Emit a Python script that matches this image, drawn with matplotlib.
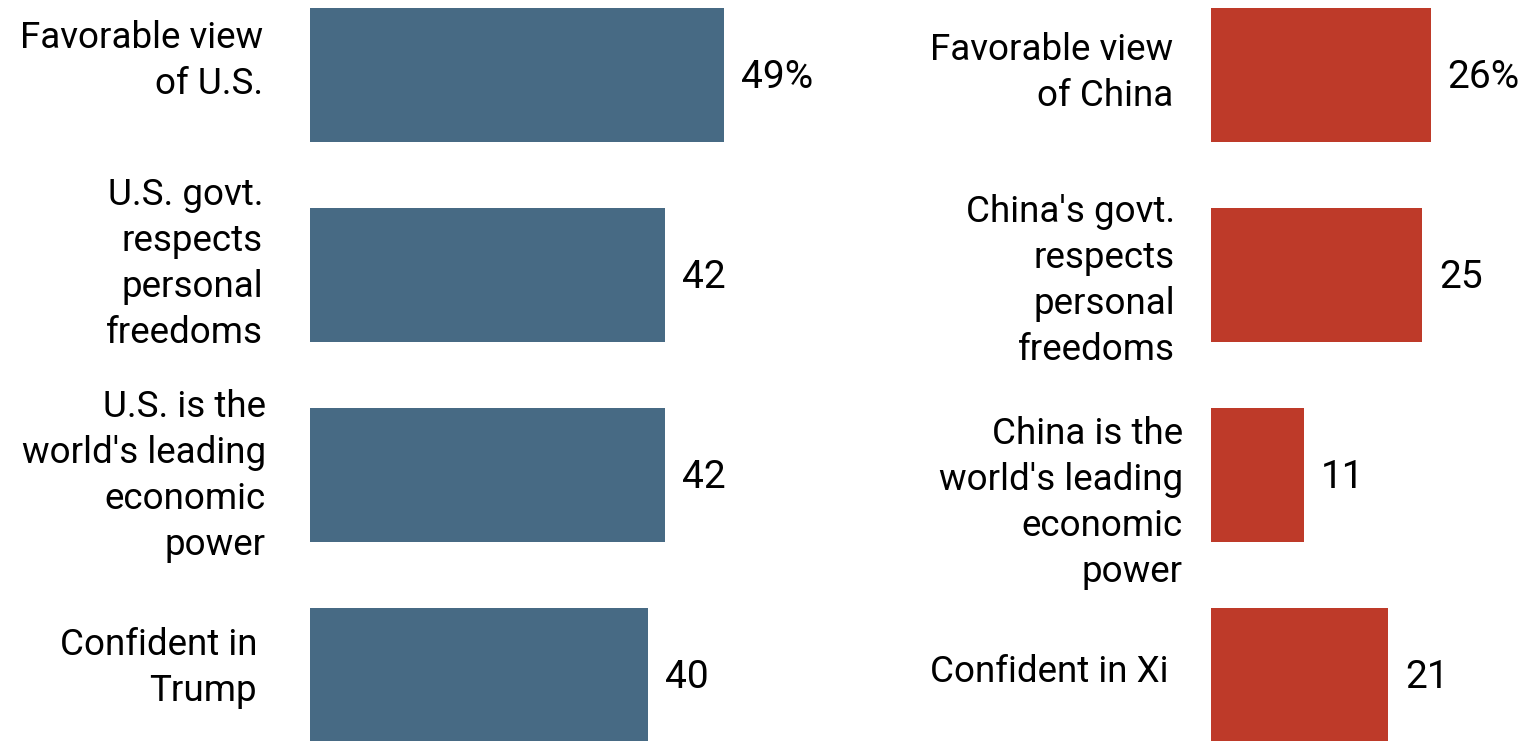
import matplotlib.pyplot as plt

us_labels = ["Favorable view\nof U.S.", "U.S. govt.\nrespects\npersonal\nfreedoms",
             "U.S. is the\nworld's leading\neconomic\npower", "Confident in\nTrump"]
us_values = [49, 42, 42, 40]
cn_labels = ["Favorable view\nof China", "China's govt.\nrespects\npersonal\nfreedoms",
             "China is the\nworld's leading\neconomic\npower", "Confident in Xi"]
cn_values = [26, 25, 11, 21]

plt.rcParams['font.family'] = ['Roboto', 'DejaVu Sans']

W, H = 1533, 741
fig = plt.figure(figsize=(W / 100, H / 100), dpi=100)

px_per_unit = 8.45
row_px = 200.0

# label anchor positions (pixels) as placed in the original layout
us_lab_pos = [(263, 61), (263, 264), (266, 476), (257, 668)]
cn_lab_pos = [(1173, 73), (1175, 281), (1183, 503), (1168, 672)]


def panel(x0, lab_pos, labels, values, color):
    ax = fig.add_axes([x0 / W, 0, px_per_unit * 60 / W, 1])
    ax.set_xlim(0, 60)
    top = -75 / row_px
    ax.set_ylim(top + H / row_px, top)
    ys = list(range(len(values)))
    ax.barh(ys, values, height=0.67, color=color)
    for i, (y, v, lab) in enumerate(zip(ys, values, labels)):
        txt = f"{v}%" if i == 0 else f"{v}"
        ax.text(v + 17 / px_per_unit, y + 0.015, txt, va='center', ha='left',
                fontsize=28, color='black')
        lx, ly = lab_pos[i]
        fig.text(lx / W, 1 - ly / H, lab, ha='right', va='center',
                 fontsize=26.5, linespacing=1.35, color='black')
    ax.axis('off')


panel(310, us_lab_pos, us_labels, us_values, '#476A84')
panel(1211, cn_lab_pos, cn_labels, cn_values, '#BE3A29')

fig.savefig('out.png', dpi=100)
